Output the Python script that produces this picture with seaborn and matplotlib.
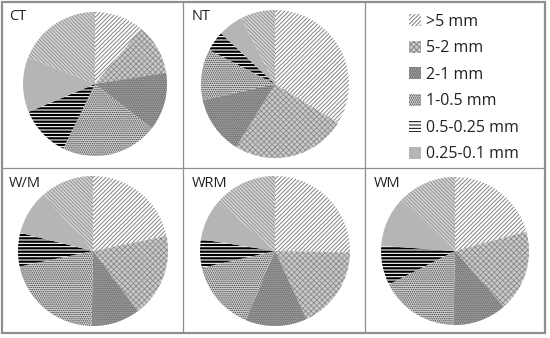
import numpy as np
import matplotlib
matplotlib.use('Agg')
import matplotlib.pyplot as plt
import seaborn as sns
from matplotlib.lines import Line2D
from matplotlib.patches import Rectangle

# aggregate size classes (% of total), clockwise from 12 o'clock
classes = ['>5 mm', '5-2 mm', '2-1 mm', '1-0.5 mm', '0.5-0.25 mm', '0.25-0.1 mm', '<0.1 mm']
CT = [11.1, 11.4, 13.0, 21.7, 11.4, 12.4, 18.9]
NT = [33.8, 25.0, 12.7, 11.1, 4.4, 5.5, 7.5]
WM_slash = [21.8, 18.0, 10.5, 21.4, 7.2, 9.6, 11.5]
WRM = [25.3, 17.8, 13.3, 15.0, 6.1, 8.9, 13.6]
WM = [20.8, 17.8, 11.8, 17.2, 8.6, 11.1, 12.8]
panel_names = ['CT', 'NT', 'W/M', 'WRM', 'WM']

sns.set_theme(style='white')
plt.rcParams['font.family'] = ['Open Sans', 'DejaVu Sans']
plt.rcParams['hatch.linewidth'] = 0.7

faces = ['#ffffff', '#cacaca', '#787878', '#d6d6d6', '#ffffff', '#b5b5b5', '#d2d2d2']
hcols = ['#808080', '#8a8a8a', '#b0b0b0', '#3c3c3c', '#000000', '#b5b5b5', '#8a8a8a']
hatches = ['/' * 8, 'x' * 6, '.' * 8, '.' * 8, '-' * 5, '', '\\' * 9]
hatch_lw = [0.7, 0.6, 0.7, 0.7, 1.6, 0.7, 0.6]

W, H = 550, 338
fig = plt.figure(figsize=(5.5, 3.38), dpi=100)

# table frame
bg = fig.add_axes([0, 0, 1, 1])
bg.set_xlim(0, W)
bg.set_ylim(H, 0)
bg.axis('off')
bg.add_patch(Rectangle((1.5, 1.5), 543.5, 331.5, fill=False, ec='#8f8f8f', lw=1.6))
bg.add_line(Line2D([183, 183], [1.5, 333], color='#8f8f8f', lw=0.9))
bg.add_line(Line2D([365, 365], [1.5, 333], color='#8f8f8f', lw=0.9))
bg.add_line(Line2D([1.5, 545], [168, 168], color='#8f8f8f', lw=0.9))


def pie_at(vals, cx, cy, r):
    ax = fig.add_axes([(cx - r) / W, 1 - (cy + r) / H, 2 * r / W, 2 * r / H])
    wedges, _ = ax.pie(vals, startangle=90, counterclock=False, radius=1)
    for w, fc, hc, h, hl in zip(wedges, faces, hcols, hatches, hatch_lw):
        w.set_facecolor(fc)
        w.set_edgecolor(hc)
        w.set_hatch(h)
        w.set_linewidth(0)
        if hasattr(w, 'set_hatch_linewidth'):
            w.set_hatch_linewidth(hl)
        else:
            w._hatch_linewidth = hl
    ax.set_xlim(-1, 1)
    ax.set_ylim(-1, 1)
    ax.axis('off')
    return wedges


data = [CT, NT, WM_slash, WRM, WM]
centers = [(95, 84, 72), (275, 84, 74), (93, 251, 75), (275, 251, 75), (455, 251, 74)]
label_pos = [(9, 20), (192, 20), (9, 187), (192, 187), (374, 187)]

for vals, (cx, cy, r), name, (lx, ly) in zip(data, centers, panel_names, label_pos):
    wedges = pie_at(vals, cx, cy, r)
    bg.text(lx, ly, name, fontsize=10.5, color='#222222', va='baseline', ha='left')
    if name == 'CT':
        handles = wedges[:6]

leg = fig.legend(handles, classes[:6], loc='upper left',
                 bbox_to_anchor=(396 / W, 1 - 1 / H), frameon=False,
                 fontsize=11.5, handlelength=0.75, handleheight=0.75,
                 handletextpad=0.3, labelspacing=0.66, borderpad=0.3)
for t in leg.get_texts():
    t.set_color('#222222')

fig.savefig('out.png', dpi=100, facecolor='white')
